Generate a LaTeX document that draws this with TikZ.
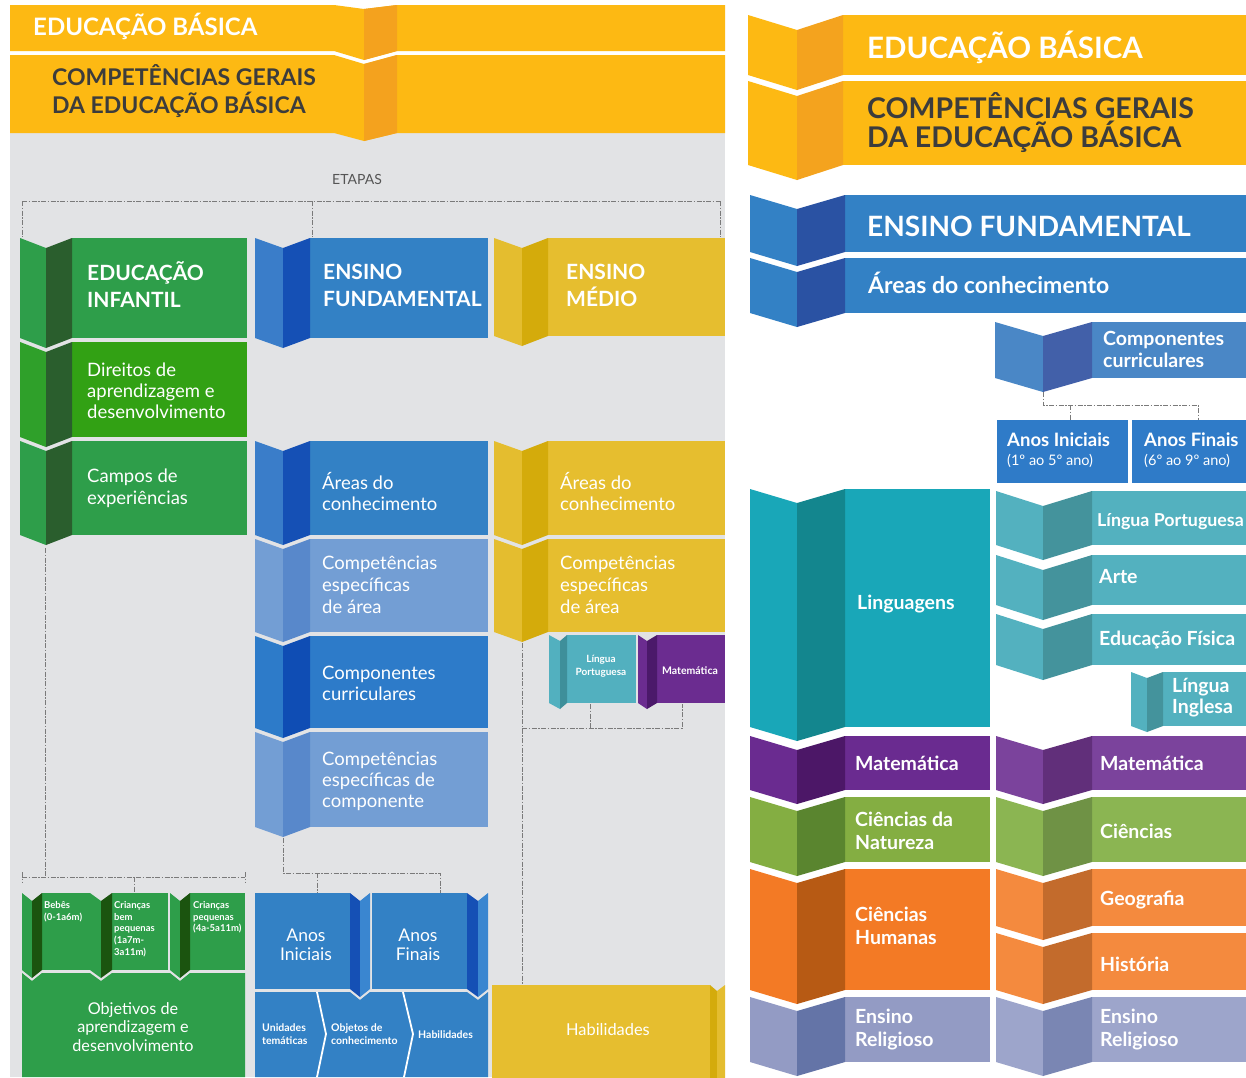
\documentclass[tikz,border=0pt]{standalone}
\usepackage{fontspec}
\setmainfont{Lato}
\definecolor{bggray}{HTML}{E2E3E5}
\definecolor{ytop}{HTML}{FDB913}
\definecolor{ofold}{HTML}{F4A21E}
\definecolor{tdark}{HTML}{3C3C3C}
\definecolor{tgray}{HTML}{555555}
\definecolor{dashc}{HTML}{7A7A7A}
% left schemes
\definecolor{gL}{HTML}{2E9E4A}\definecolor{gD}{HTML}{2A5E2D}\definecolor{gM}{HTML}{2E9E4A}
\definecolor{hL}{HTML}{2FA02A}\definecolor{hD}{HTML}{2A5E2D}\definecolor{hM}{HTML}{32A114}
\definecolor{sL}{HTML}{2E9E4A}\definecolor{sD}{HTML}{1B540F}\definecolor{sM}{HTML}{2E9E4A}
\definecolor{bL}{HTML}{3A7DC9}\definecolor{bD}{HTML}{1550B5}\definecolor{bM}{HTML}{3381C5}
\definecolor{lL}{HTML}{739ED4}\definecolor{lD}{HTML}{5888CB}\definecolor{lM}{HTML}{739ED4}
\definecolor{cL}{HTML}{2D7BC9}\definecolor{cD}{HTML}{0F4DB4}\definecolor{cM}{HTML}{2D7BC9}
\definecolor{aL}{HTML}{3A86D0}\definecolor{aD}{HTML}{1550B5}\definecolor{aM}{HTML}{3381C5}
\definecolor{yL}{HTML}{E4BD2F}\definecolor{yD}{HTML}{D4AB0B}\definecolor{yM}{HTML}{E6BE2F}
\definecolor{tL}{HTML}{52B0BF}\definecolor{tD}{HTML}{3E8F9A}\definecolor{tM}{HTML}{52B0BF}
\definecolor{pL}{HTML}{6B2C90}\definecolor{pD}{HTML}{4B196A}\definecolor{pM}{HTML}{6B2C90}
% right schemes
\definecolor{ryL}{HTML}{FDB913}\definecolor{ryD}{HTML}{F4A31E}\definecolor{ryM}{HTML}{FDB913}
\definecolor{rbL}{HTML}{3381C5}\definecolor{rbD}{HTML}{2A52A3}\definecolor{rbM}{HTML}{3381C5}
\definecolor{rcL}{HTML}{4A87C6}\definecolor{rcD}{HTML}{4260A9}\definecolor{rcM}{HTML}{4A87C6}
\definecolor{ranos}{HTML}{2F7BC8}
\definecolor{rlL}{HTML}{19A7B8}\definecolor{rlD}{HTML}{13868E}\definecolor{rlM}{HTML}{19A7B8}
\definecolor{rtL}{HTML}{53B1BF}\definecolor{rtD}{HTML}{44939C}\definecolor{rtM}{HTML}{53B1BF}
\definecolor{rpL}{HTML}{6A2B90}\definecolor{rpD}{HTML}{4C1767}\definecolor{rpM}{HTML}{6A2B90}
\definecolor{rqL}{HTML}{7B439C}\definecolor{rqD}{HTML}{612F7A}\definecolor{rqM}{HTML}{7B439C}
\definecolor{rnL}{HTML}{84AE42}\definecolor{rnD}{HTML}{5A852F}\definecolor{rnM}{HTML}{84AE42}
\definecolor{rmL}{HTML}{8BB552}\definecolor{rmD}{HTML}{6F9245}\definecolor{rmM}{HTML}{8BB552}
\definecolor{roL}{HTML}{F37A25}\definecolor{roD}{HTML}{B75A14}\definecolor{roM}{HTML}{F37A25}
\definecolor{rgL}{HTML}{F48A3E}\definecolor{rgD}{HTML}{C36B2C}\definecolor{rgM}{HTML}{F48A3E}
\definecolor{reL}{HTML}{939BC4}\definecolor{reD}{HTML}{6474A7}\definecolor{reM}{HTML}{939BC4}
\definecolor{rfL}{HTML}{9DA5CB}\definecolor{rfD}{HTML}{7A86B3}\definecolor{rfM}{HTML}{9DA5CB}
\newcommand\fs[2]{\fontsize{#1}{#2}\selectfont}
% scheme, xl, xc, xr, xe, top, bot, d
\newcommand\foldbox[8]{%
  \fill[#1M] (#4,#6) rectangle (#5,#7);
  \fill[#1L] (#2,#6) -- (#3,{#6+#8}) -- (#3,{#7+#8}) -- (#2,#7) -- cycle;
  \fill[#1D] (#3,{#6+#8}) -- (#4,#6) -- (#4,#7) -- (#3,{#7+#8}) -- cycle;}
% scheme, xs, xm, xc, xe, top, bot, d  (fold on the right)
\newcommand\rfold[8]{%
  \fill[#1M] (#2,#6) rectangle (#3,#7);
  \fill[#1D] (#3,#6) -- (#4,{#6+#8}) -- (#4,{#7+#8}) -- (#3,#7) -- cycle;
  \fill[#1L] (#4,{#6+#8}) -- (#5,#6) -- (#5,#7) -- (#4,{#7+#8}) -- cycle;}
\tikzset{
  dl/.style={draw=dashc, line width=0.9pt, dash pattern=on 5pt off 1.5pt on 1.5pt off 1.5pt},
  tw/.style={text=white, inner sep=0pt, anchor=west, align=left},
  twc/.style={text=white, inner sep=0pt, align=center},
}
\begin{document}
\begin{tikzpicture}[x=1pt,y=-1pt]
\useasboundingbox (0,0) rectangle (1246,1077);
\clip (0,0) rectangle (1246,1077);
\fill[white] (0,0) rectangle (1246,1077);
% ================= LEFT PANEL =================
\fill[bggray] (10,130) rectangle (725,1077);
\fill[ytop] (10,5) -- (334,5) -- (364,9) -- (397,5) -- (725,5) -- (725,51) -- (397,51) -- (364,60) -- (334,51) -- (10,51) -- cycle;
\fill[ofold] (364,9) -- (397,5) -- (397,51) -- (364,60) -- cycle;
\fill[ytop] (10,55) -- (334,55) -- (364,64) -- (397,55) -- (725,55) -- (725,133) -- (397,133) -- (364,141) -- (334,133) -- (10,133) -- cycle;
\fill[ofold] (364,64) -- (397,55) -- (397,133) -- (364,141) -- cycle;
\node[tw, font=\bfseries\fs{24}{26}] (eb) at (33,26) {EDUCAÇÃO BÁSICA};
\node[tw, text=tdark, font=\bfseries\fs{23}{28}] (cg) at (52,91) {COMPETÊNCIAS GERAIS\\DA EDUCAÇÃO BÁSICA};
\node[text=tgray, font=\fs{14}{16}, inner sep=0pt] (etapas) at (357,179) {ETAPAS};
% etapas bracket
\coordinate (e1) at (22,201); \coordinate (e2) at (312,201); \coordinate (e3) at (720,201);
\coordinate (e1b) at (22,237); \coordinate (e2b) at (312,237); \coordinate (e3b) at (720,237);
\draw[dl] (e1) -- (e3);
\draw[dl] (e1) -- (e1b); \draw[dl] (e2) -- (e2b); \draw[dl] (e3) -- (e3b);
% green column
\foldbox{g}{20}{46}{72}{247}{238}{338}{10}
\foldbox{h}{20}{46}{72}{247}{342}{437}{10}
\foldbox{g}{20}{46}{72}{247}{441}{535}{10}
\node[tw, font=\bfseries\fs{21}{27}] (ei) at (87,285) {EDUCAÇÃO\\INFANTIL};
\node[tw, font=\fs{18.5}{21}] (dir) at (87,391) {Direitos de\\aprendizagem e\\desenvolvimento};
\node[tw, font=\fs{18.5}{22}] (cam) at (87,488) {Campos de\\experiências};
% blue column
\foldbox{b}{255}{283}{310}{488}{238}{338}{10}
\foldbox{b}{255}{283}{310}{488}{441}{535}{10}
\foldbox{l}{255}{283}{310}{488}{539}{632}{10}
\foldbox{c}{255}{283}{310}{488}{636}{728}{10}
\foldbox{l}{255}{283}{310}{488}{732}{827}{10}
\node[tw, font=\bfseries\fs{21}{27}] (ef) at (323,285) {ENSINO\\FUNDAMENTAL};
\node[tw, font=\fs{18.5}{21}] (ab) at (322,491) {Áreas do\\conhecimento};
\node[tw, font=\fs{18.5}{22}] (ceb) at (322,585) {Competências\\específicas\\de área};
\node[tw, font=\fs{18.5}{21}] (cc) at (322,683) {Componentes\\curriculares};
\node[tw, font=\fs{18.5}{21}] (cec) at (322,781) {Competências\\específicas de\\componente};
% yellow column
\foldbox{y}{494}{522}{548}{725}{238}{336}{10}
\foldbox{y}{494}{522}{548}{725}{441}{535}{10}
\foldbox{y}{494}{522}{548}{725}{539}{632}{10}
\node[tw, font=\bfseries\fs{21}{27}] (em) at (566,285) {ENSINO\\MÉDIO};
\node[tw, font=\fs{18.5}{21}] (ay) at (560,491) {Áreas do\\conhecimento};
\node[tw, font=\fs{18.5}{22}] (cey) at (560,585) {Competências\\específicas\\de área};
\foldbox{t}{549}{560}{567}{636}{635}{703}{6}
\foldbox{p}{638}{647}{657}{725}{635}{703}{6}
\node[twc, font=\bfseries\fs{10}{12.5}] (lpm) at (601,666) {Língua\\Portuguesa};
\node[twc, font=\bfseries\fs{10.5}{12}] (matm) at (690,671) {Matemática};
% green bottom
\fill[gM] (22,973) -- (32,981) -- (42,973) -- (90,973) -- (101,981) -- (112,973) -- (170,973) -- (180,981) -- (190,973) -- (245,973) -- (245,1077) -- (22,1077) -- cycle;
\foldbox{s}{22}{32}{42}{90}{893}{970}{8}
\foldbox{s}{90}{101}{112}{168}{893}{970}{8}
\foldbox{s}{170}{180}{190}{245}{893}{970}{8}
\node[tw, anchor=north west, font=\bfseries\fs{9.5}{11.8}] (beb) at (44,901) {Bebês\\(0-1a6m)};
\node[tw, anchor=north west, font=\bfseries\fs{9.5}{11.8}] (cbp) at (114,901) {Crianças\\bem\\pequenas\\(1a7m-\\3a11m)};
\node[tw, anchor=north west, font=\bfseries\fs{9.5}{11.8}] (cp) at (193,901) {Crianças\\pequenas\\(4a-5a11m)};
\node[twc, font=\fs{16.2}{18.5}] (obj) at (133,1027) {Objetivos de\\aprendizagem e\\desenvolvimento};
% blue bottom
\fill[bM] (255,992) -- (350,992) -- (360,1000) -- (370,992) -- (467,992) -- (478,1000) -- (488,992) -- (488,1077) -- (255,1077) -- cycle;
\rfold{a}{255}{350}{360}{370}{893}{989}{8}
\rfold{a}{372}{467}{478}{488}{893}{989}{8}
\draw[white, line width=1.8pt] (317,992) -- (326,1034) -- (317,1077);
\draw[white, line width=1.8pt] (403,992) -- (413,1034) -- (404,1077);
\node[twc, font=\fs{17.5}{19}] (ai) at (306,945) {Anos\\Iniciais};
\node[twc, font=\fs{17.5}{19}] (af) at (418,945) {Anos\\Finais};
\node[tw, font=\bfseries\fs{10.5}{13.5}] (ut) at (262,1034) {Unidades\\temáticas};
\node[tw, font=\bfseries\fs{10.5}{13.5}] (oc) at (331,1034) {Objetos de\\conhecimento};
\node[tw, font=\bfseries\fs{10.5}{13.5}] (hb) at (418,1035) {Habilidades};
% yellow bottom
\rfold{y}{492}{710}{717}{725}{985}{1090}{6}
\node[twc, font=\fs{16.4}{18}] (hy) at (608,1030) {Habilidades};
% dashed connectors left
\coordinate (g1) at (45,548); \coordinate (g2) at (45,877);
\coordinate (g3) at (22,877); \coordinate (g4) at (245,877); \coordinate (g5) at (134,877); \coordinate (g5b) at (134,893);
\draw[dl] (g1) -- (g2); \draw[dl] (g3) -- (g4);
\draw[dl] (22,872) -- (22,883); \draw[dl] (245,872) -- (245,883); \draw[dl] (g5) -- (g5b);
\coordinate (b1) at (283,838); \coordinate (b2) at (283,873); \coordinate (b3) at (440,873);
\coordinate (b4) at (317,873); \coordinate (b4b) at (317,893); \coordinate (b3b) at (440,893);
\draw[dl] (b1) -- (b2) -- (b3) -- (b3b); \draw[dl] (b4) -- (b4b);
\coordinate (y1) at (522,643); \coordinate (y2) at (522,984); \coordinate (y3) at (522,728); \coordinate (y4) at (682,728);
\coordinate (y5) at (590,704); \coordinate (y5b) at (590,728); \coordinate (y6) at (682,704);
\draw[dl] (y1) -- (y2); \draw[dl] (y3) -- (y4) -- (y6); \draw[dl] (y5) -- (y5b);
% ================= RIGHT PANEL =================
\foldbox{ry}{748}{797}{843}{1246}{15}{75}{15}
\foldbox{ry}{748}{797}{843}{1246}{81}{165}{15}
\node[tw, font=\bfseries\fs{29.5}{32}] (reb) at (867,47) {EDUCAÇÃO BÁSICA};
\node[tw, text=tdark, font=\bfseries\fs{28.5}{29}] (rcg) at (867,123) {COMPETÊNCIAS GERAIS\\DA EDUCAÇÃO BÁSICA};
\foldbox{rb}{750}{797}{845}{1246}{195}{252}{14}
\foldbox{rb}{750}{797}{845}{1246}{258}{313}{14}
\node[tw, font=\bfseries\fs{28}{30}] (ref) at (867,226) {ENSINO FUNDAMENTAL};
\node[tw, font=\bfseries\fs{23}{25}] (rac) at (868,283) {Áreas do conhecimento};
\foldbox{rc}{995}{1043}{1092}{1246}{322}{378}{14}
\node[tw, font=\bfseries\fs{19.5}{22}] (rcc) at (1103,349) {Componentes\\curriculares};
\coordinate (r1) at (1043,392); \coordinate (r2) at (1043,405); \coordinate (r3) at (1198,405);
\coordinate (r4) at (1070,405); \coordinate (r4b) at (1070,420); \coordinate (r3b) at (1198,420);
\draw[dl] (r1) -- (r2) -- (r3) -- (r3b); \draw[dl] (r4) -- (r4b);
\fill[ranos] (997,420) rectangle (1128,483);
\fill[ranos] (1132,420) rectangle (1246,483);
\node[tw, font=\bfseries\fs{18.5}{20}] (rai) at (1007,440) {Anos Iniciais};
\node[tw, font=\fs{14.5}{16}] (rai2) at (1007,461) {(1º ao 5º ano)};
\node[tw, font=\bfseries\fs{18.5}{20}] (raf) at (1144,440) {Anos Finais};
\node[tw, font=\fs{14.5}{16}] (raf2) at (1144,461) {(6º ao 9º ano)};
% Linguagens
\foldbox{rl}{750}{797}{845}{990}{489}{727}{14}
\node[tw, font=\bfseries\fs{19.5}{22}] (rlin) at (857,604) {Linguagens};
\foldbox{rt}{996}{1043}{1092}{1246}{491}{545}{15}
\foldbox{rt}{996}{1043}{1092}{1246}{555}{605}{15}
\foldbox{rt}{996}{1043}{1092}{1246}{614}{665}{15}
\foldbox{rt}{1131}{1147}{1163}{1246}{672}{726}{6}
\node[tw, font=\bfseries\fs{17.8}{22}] (rlp) at (1097,522) {Língua Portuguesa};
\node[tw, font=\bfseries\fs{19.5}{22}] (rar) at (1099,577) {Arte};
\node[tw, font=\bfseries\fs{19.5}{22}] (ref2) at (1099,640) {Educação Física};
\node[tw, font=\bfseries\fs{19.5}{21}] (rli) at (1172,698) {Língua\\Inglesa};
% Matematica
\foldbox{rp}{750}{797}{845}{990}{736}{790}{14}
\foldbox{rq}{996}{1043}{1092}{1246}{736}{790}{14}
\node[tw, font=\bfseries\fs{19.5}{22}] (rm1) at (855,763) {Matemática};
\node[tw, font=\bfseries\fs{19.5}{22}] (rm2) at (1100,763) {Matemática};
% Ciencias
\foldbox{rn}{750}{797}{845}{990}{797}{862}{14}
\foldbox{rm}{996}{1043}{1092}{1246}{797}{862}{14}
\node[tw, font=\bfseries\fs{19.5}{23}] (rcn) at (855,831) {Ciências da\\Natureza};
\node[tw, font=\bfseries\fs{19.5}{22}] (rci) at (1100,831) {Ciências};
% Humanas
\foldbox{ro}{750}{797}{845}{990}{869}{990}{14}
\foldbox{rg}{996}{1043}{1092}{1246}{869}{926}{14}
\foldbox{rg}{996}{1043}{1092}{1246}{933}{990}{14}
\node[tw, font=\bfseries\fs{19.5}{23}] (rch) at (855,926) {Ciências\\Humanas};
\node[tw, font=\bfseries\fs{19.5}{22}] (rgeo) at (1100,900) {Geografia};
\node[tw, font=\bfseries\fs{19.5}{22}] (rhis) at (1100,964) {História};
% Ensino Religioso
\foldbox{re}{750}{797}{845}{990}{997}{1062}{14}
\foldbox{rf}{996}{1043}{1092}{1246}{997}{1062}{14}
\node[tw, font=\bfseries\fs{19.5}{23}] (rer1) at (855,1030) {Ensino\\Religioso};
\node[tw, font=\bfseries\fs{19.5}{23}] (rer2) at (1100,1030) {Ensino\\Religioso};
\end{tikzpicture}
\end{document}
